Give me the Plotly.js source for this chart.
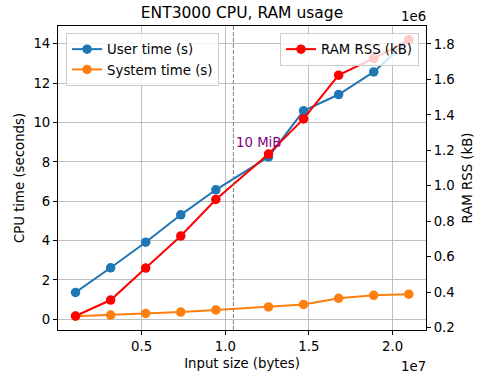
<!DOCTYPE html>
<html><head><meta charset="utf-8">
<script src="https://cdn.plot.ly/plotly-3.0.1.min.js"></script>
<style>html,body{margin:0;padding:0;background:#fff}#chart{width:483px;height:377px}</style>
</head><body><div id="chart"></div>
<script>
const MiB = 1048576;
const inputMiB = [1, 3, 5, 7, 9, 12, 14, 16, 18, 20];
const inputBytes = inputMiB.map(v => v * MiB);
const userTime = [1.37, 2.62, 3.92, 5.31, 6.58, 8.25, 10.59, 11.42, 12.57, 14.2];
const systemTime = [0.16, 0.22, 0.30, 0.37, 0.48, 0.63, 0.76, 1.07, 1.22, 1.28];
const ramRSS = [266000, 356000, 536000, 717000, 923000, 1179000, 1377000, 1624000, 1718000, 1823000];
const markerLine = 10 * MiB;
const xTicks = [5e6, 1e7, 1.5e7, 2e7];
const xTickText = ['0.5', '1.0', '1.5', '2.0'];
const ramTicks = [200000, 400000, 600000, 800000, 1000000, 1200000, 1400000, 1600000, 1800000];
const ramTickText = ['0.2', '0.4', '0.6', '0.8', '1.0', '1.2', '1.4', '1.6', '1.8'];

const F = 'DejaVu Sans, sans-serif';
const FS = 13.3;
const traces = [
  {x: inputBytes, y: userTime, name: 'User time (s)', mode: 'lines+markers',
   line: {color: '#1f77b4', width: 2}, marker: {size: 9.5, color: '#1f77b4'}, legend: 'legend'},
  {x: inputBytes, y: systemTime, name: 'System time (s)', mode: 'lines+markers',
   line: {color: '#ff7f0e', width: 2}, marker: {size: 9.5, color: '#ff7f0e'}, legend: 'legend'},
  {x: inputBytes, y: ramRSS, name: 'RAM RSS (kB)', mode: 'lines+markers', yaxis: 'y2',
   line: {color: '#ff0000', width: 2}, marker: {size: 9.5, color: '#ff0000'}, legend: 'legend2'}
];
const axBase = {showline: true, linecolor: '#000', linewidth: 1, ticks: 'outside', ticklen: 4,
  tickcolor: '#000', tickfont: {family: F, size: FS, color: '#000'}, zeroline: false};
const layout = {
  width: 483, height: 377,
  margin: {l: 58, r: 57, t: 26, b: 47},
  paper_bgcolor: '#fff', plot_bgcolor: '#fff',
  font: {family: F, color: '#000'},
  title: {text: 'ENT3000 CPU, RAM usage', font: {family: F, size: 15.5, color: '#000'},
          x: 0.5, xref: 'paper', y: 1 - 12.5 / 377, yref: 'container', yanchor: 'middle'},
  xaxis: Object.assign({}, axBase, {range: [0, 2.2e7], tickvals: xTicks, ticktext: xTickText,
    mirror: true, showgrid: true, gridcolor: '#b0b0b0', gridwidth: 0.8,
    title: {text: 'Input size (bytes)', font: {family: F, size: FS}, standoff: 5}}),
  yaxis: Object.assign({}, axBase, {range: [-0.54, 14.9], dtick: 2, tick0: 0,
    showgrid: true, gridcolor: '#b0b0b0', gridwidth: 0.8,
    title: {text: 'CPU time (seconds)', font: {family: F, size: FS}, standoff: 5}}),
  yaxis2: Object.assign({}, axBase, {range: [187000, 1901000], overlaying: 'y', side: 'right',
    tickvals: ramTicks, ticktext: ramTickText, showgrid: false,
    title: {text: 'RAM RSS (kB)', font: {family: F, size: FS}, standoff: 8}}),
  legend: {x: 0.022, y: 0.977, xanchor: 'left', yanchor: 'top', bgcolor: 'rgba(255,255,255,0.8)',
    bordercolor: '#cccccc', borderwidth: 1, font: {family: F, size: FS}, tracegroupgap: 0,
    itemwidth: 30},
  legend2: {x: 0.981, y: 0.977, xanchor: 'right', yanchor: 'top', bgcolor: 'rgba(255,255,255,0.8)',
    bordercolor: '#cccccc', borderwidth: 1, font: {family: F, size: FS}, itemwidth: 30},
  shapes: [{type: 'line', xref: 'x', yref: 'paper', x0: markerLine, x1: markerLine, y0: 0, y1: 1,
    line: {color: '#808080', width: 1, dash: '4px,2px'}}],
  annotations: [
    {x: markerLine, y: 9, xref: 'x', yref: 'y', text: '10 MiB', showarrow: false,
     xanchor: 'left', yanchor: 'middle', xshift: 1, font: {family: F, size: 13.3, color: '#800080'}},
    {x: 1, y: 1, xref: 'paper', yref: 'paper', text: '1e6', showarrow: false,
     xanchor: 'right', yanchor: 'bottom', xshift: 2, yshift: 0, font: {family: F, size: FS}},
    {x: 1, y: 0, xref: 'paper', yref: 'paper', text: '1e7', showarrow: false,
     xanchor: 'right', yanchor: 'middle', xshift: 2, yshift: -36, font: {family: F, size: FS}}
  ]
};
Plotly.newPlot('chart', traces, layout, {displayModeBar: false, staticPlot: true});
</script></body></html>
